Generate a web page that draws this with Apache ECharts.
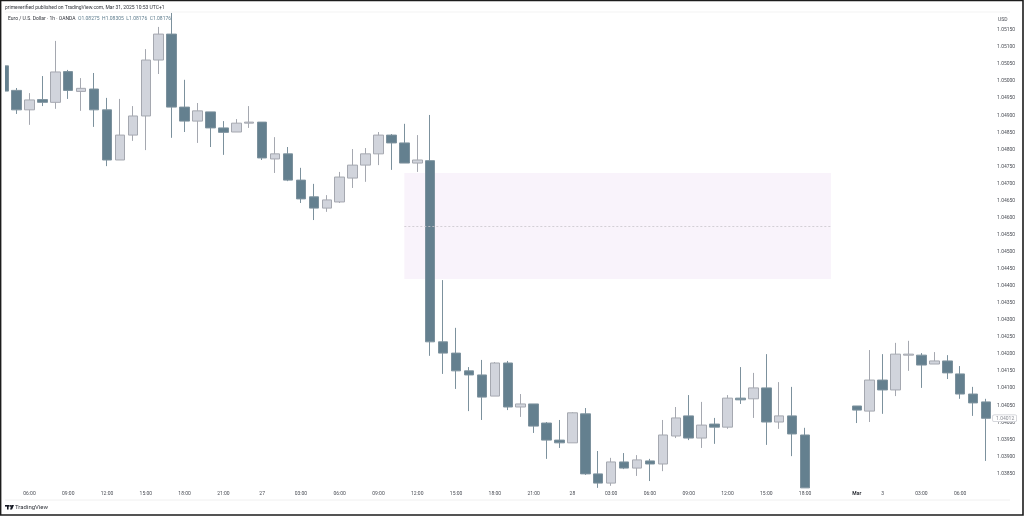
<!DOCTYPE html>
<html>
<head>
<meta charset="utf-8">
<title>EUR/USD 1h</title>
<script src="https://cdn.jsdelivr.net/npm/echarts@6/dist/echarts.min.js"></script>
<style>
  html, body { margin: 0; padding: 0; background: #fff; }
  #main { width: 1024px; height: 516px; }
</style>
</head>
<body>
<div id="main"></div>
<script>
// tick labels on the time axis, one slot per hourly bar (63-65 are the gap before Mar)
var timeLabels = [
  '', '', '06:00', '', '', '09:00', '', '', '12:00', '', '', '15:00', '', '', '18:00', '', '', '21:00', '', '',
  '27', '', '', '03:00', '', '', '06:00', '', '', '09:00', '', '', '12:00', '', '', '15:00', '', '', '18:00', '',
  '', '21:00', '', '', '28', '', '', '03:00', '', '', '06:00', '', '', '09:00', '', '', '12:00', '', '', '15:00',
  '', '', '18:00', '', '', '', 'Mar', '', '3', '', '', '03:00', '', '', '06:00', '', ''
];

var opens = [
  1.05045, 1.04973, 1.04916, 1.04946, 1.04938, 1.05028, 1.04970, 1.04977, 1.04916, 1.04769,
  1.04842, 1.04898, 1.05062, 1.05138, 1.04924, 1.04883, 1.04910, 1.04863, 1.04851, 1.04877,
  1.04880, 1.04772, 1.04787, 1.04710, 1.04661, 1.04628, 1.04646, 1.04716, 1.04754, 1.04787,
  1.04842, 1.04819, 1.04760, 1.04767, 1.04236, 1.04203, 1.04151, 1.04139, 1.04077, 1.04174,
  1.04045, 1.04054, 1.03998, 1.03948, 1.03940, 1.04025, 1.03849, 1.03822, 1.03884, 1.03866,
  1.03887, 1.03878, 1.03960, 1.04019, 1.03954, 1.03995, 1.03986, 1.04071, 1.04069, 1.04101,
  1.04001, 1.04019, 1.03963, null, null, null, 1.04048, 1.04033, 1.04124, 1.04095,
  1.04197, 1.04197, 1.04171, 1.04180, 1.04142, 1.04083, 1.04060
];
var closes = [
  1.04971, 1.04916, 1.04945, 1.04938, 1.05027, 1.04973, 1.04979, 1.04916, 1.04769, 1.04842,
  1.04898, 1.05062, 1.05138, 1.04924, 1.04883, 1.04913, 1.04863, 1.04850, 1.04877, 1.04880,
  1.04775, 1.04787, 1.04710, 1.04655, 1.04628, 1.04652, 1.04719, 1.04754, 1.04787, 1.04842,
  1.04819, 1.04760, 1.04769, 1.04236, 1.04203, 1.04151, 1.04139, 1.04074, 1.04174, 1.04045,
  1.04054, 1.03989, 1.03948, 1.03940, 1.04028, 1.03849, 1.03822, 1.03884, 1.03866, 1.03890,
  1.03878, 1.03963, 1.04013, 1.03954, 1.03992, 1.03986, 1.04071, 1.04066, 1.04101, 1.04001,
  1.04019, 1.03966, 1.03808, null, null, null, 1.04036, 1.04124, 1.04095, 1.04200,
  1.04200, 1.04168, 1.04180, 1.04145, 1.04083, 1.04057, 1.04012
];
var lows = [
  1.04971, 1.04904, 1.04872, 1.04927, 1.04919, 1.04948, 1.04913, 1.04866, 1.04751, 1.04769,
  1.04825, 1.04798, 1.05021, 1.04834, 1.04851, 1.04819, 1.04807, 1.04784, 1.04851, 1.04863,
  1.04769, 1.04731, 1.04707, 1.04643, 1.04593, 1.04617, 1.04643, 1.04687, 1.04705, 1.04754,
  1.04740, 1.04760, 1.04734, 1.04195, 1.04142, 1.04098, 1.04033, 1.04007, 1.04077, 1.04036,
  1.04016, 1.03969, 1.03893, 1.03925, 1.03940, 1.03846, 1.03808, 1.03814, 1.03863, 1.03843,
  1.03828, 1.03857, 1.03954, 1.03948, 1.03925, 1.03937, 1.03981, 1.04054, 1.04013, 1.03934,
  1.03981, 1.03901, 1.03808, null, null, null, 1.03998, 1.04001, 1.04025, 1.04077,
  1.04151, 1.04101, 1.04171, 1.04127, 1.04069, 1.04019, 1.03887
];
var highs = [
  1.05045, 1.04980, 1.04965, 1.05015, 1.05118, 1.05033, 1.05009, 1.05024, 1.04951, 1.04948,
  1.04927, 1.05094, 1.05159, 1.05200, 1.05004, 1.04936, 1.04910, 1.04883, 1.04889, 1.04927,
  1.04880, 1.04836, 1.04807, 1.04746, 1.04699, 1.04666, 1.04734, 1.04801, 1.04804, 1.04851,
  1.04845, 1.04875, 1.04842, 1.04901, 1.04417, 1.04277, 1.04162, 1.04183, 1.04177, 1.04180,
  1.04083, 1.04054, 1.04001, 1.04007, 1.04030, 1.04042, 1.03916, 1.03896, 1.03910, 1.03904,
  1.03893, 1.04007, 1.04045, 1.04080, 1.04060, 1.04013, 1.04080, 1.04162, 1.04145, 1.04200,
  1.04118, 1.04104, 1.03984, null, null, null, 1.04048, 1.04212, 1.04200, 1.04233,
  1.04239, 1.04203, 1.04206, 1.04197, 1.04165, 1.04104, 1.04069
];

// drawn zone: first and last bar slot, top, middle and bottom price
var zoneBars = [31, 64];
var zonePrices = [1.04731, 1.04576, 1.04420];
var lastPrice = 1.04012;

var candles = opens.map(function (o, i) {
  return o === null ? '-' : [o, closes[i], lows[i], highs[i]];
});

var font = 'Roboto, sans-serif';
var myChart = echarts.init(document.getElementById('main'), null, { renderer: 'canvas' });

myChart.setOption({
  animation: false,
  backgroundColor: '#ffffff',
  title: [
    {
      text: 'primeverified published on TradingView.com, Mar 31, 2025 10:53 UTC+1',
      left: 5, top: 5, padding: 0,
      textStyle: { fontFamily: font, fontSize: 5, fontWeight: 'normal', color: '#2f3239' }
    },
    {
      text: 'Euro / U.S. Dollar · 1h · OANDA  {v|O1.08275  H1.08305  L1.08176  C1.08176}',
      left: 8, top: 16, padding: 0,
      textStyle: {
        fontFamily: font, fontSize: 5, fontWeight: 'normal', color: '#2f3239',
        rich: { v: { fontFamily: font, fontSize: 5, color: '#5f7d8e' } }
      }
    },
    {
      text: 'USD',
      left: 998, top: 17, padding: 0,
      textStyle: { fontFamily: font, fontSize: 5, fontWeight: 'normal', color: '#4a4d55' }
    },
    {
      text: 'TradingView',
      left: 15, top: 504, padding: 0,
      textStyle: { fontFamily: font, fontSize: 6, fontWeight: 'normal', color: '#2f3239' }
    }
  ],
  grid: { left: -2.85, right: 31.5, top: 12.94, bottom: 25.4, outerBoundsMode: 'none' },
  xAxis: {
    type: 'category',
    data: timeLabels,
    axisLine: { show: false },
    axisTick: { show: false },
    splitLine: { show: false },
    axisLabel: {
      interval: 0,
      margin: 1,
      fontFamily: font,
      fontSize: 5,
      color: '#4a4d55',
      formatter: function (v) { return v === 'Mar' ? '{b|Mar}' : v; },
      rich: { b: { fontFamily: font, fontSize: 5, fontWeight: 'bold', color: '#2f3239' } }
    }
  },
  yAxis: {
    type: 'value',
    position: 'right',
    min: 1.038,
    max: 1.052,
    interval: 0.0005,
    axisLine: { show: false },
    axisTick: { show: false },
    splitLine: { show: false },
    axisLabel: {
      showMinLabel: false,
      showMaxLabel: false,
      margin: 4.5,
      fontFamily: font,
      fontSize: 5,
      color: '#4a4d55',
      formatter: function (v) { return v.toFixed(5); }
    }
  },
  series: [
    {
      // zone behind the candles
      type: 'line',
      data: [],
      z: 1,
      silent: true,
      markArea: {
        silent: true,
        itemStyle: { color: '#f9f3fb', opacity: 1 },
        data: [[
          { xAxis: zoneBars[0], yAxis: zonePrices[0] },
          { xAxis: zoneBars[1], yAxis: zonePrices[2] }
        ]]
      },
      markLine: {
        silent: true,
        symbol: 'none',
        label: { show: false },
        lineStyle: { color: '#c9c5cc', type: [2, 2], width: 0.8 },
        data: [[
          { xAxis: zoneBars[0], yAxis: zonePrices[1] },
          { xAxis: zoneBars[1], yAxis: zonePrices[1] }
        ]]
      }
    },
    {
      type: 'candlestick',
      data: candles,
      barWidth: 10,
      z: 3,
      itemStyle: {
        color: '#d1d4dc',
        color0: '#64808f',
        borderColor: '#a5a8b0',
        borderColor0: '#7c919d',
        borderWidth: 1
      },
      markPoint: {
        silent: true,
        symbol: 'rect',
        symbolSize: 0,
        itemStyle: { color: 'transparent' },
        label: {
          show: true,
          position: 'right',
          distance: 7,
          formatter: lastPrice.toFixed(5),
          fontFamily: font,
          fontSize: 5,
          color: '#8a8d95',
          backgroundColor: '#ffffff',
          borderColor: '#c8cad0',
          borderWidth: 0.7,
          borderRadius: 1,
          padding: [0.5, 2, 0.5, 3]
        },
        data: [{ coord: [76, lastPrice] }]
      }
    }
  ],
  graphic: {
    elements: [
      // bars left of this edge are cut off, as in the screenshot
      { type: 'rect', z: 50, silent: true, shape: { x: 0, y: 0, width: 5, height: 516 }, style: { fill: '#ffffff' } },
      // faint pane edges
      { type: 'line', z: 50, silent: true, shape: { x1: 5, y1: 12, x2: 1010, y2: 12 }, style: { stroke: '#f3f3f3', lineWidth: 1 } },
      { type: 'line', z: 50, silent: true, shape: { x1: 5, y1: 500, x2: 1010, y2: 500 }, style: { stroke: '#f0f0f0', lineWidth: 1 } },
      // logo
      { type: 'rect', z: 60, silent: true, shape: { x: 5, y: 505, width: 4.5, height: 1.6 }, style: { fill: '#131722' } },
      { type: 'rect', z: 60, silent: true, shape: { x: 7, y: 505, width: 1.6, height: 4.4 }, style: { fill: '#131722' } },
      { type: 'circle', z: 60, silent: true, shape: { cx: 10.6, cy: 505.9, r: 0.9 }, style: { fill: '#131722' } },
      { type: 'polygon', z: 60, silent: true, shape: { points: [[11.5, 505], [14, 505], [12, 509.4], [10, 509.4]] }, style: { fill: '#131722' } },
      // screenshot frame
      { type: 'rect', z: 70, silent: true, shape: { x: 0.6, y: 0.5, width: 1022.4, height: 514.5 }, style: { fill: 'none', stroke: '#1c1c1c', lineWidth: 1.6 } }
    ]
  }
});
</script>
</body>
</html>
